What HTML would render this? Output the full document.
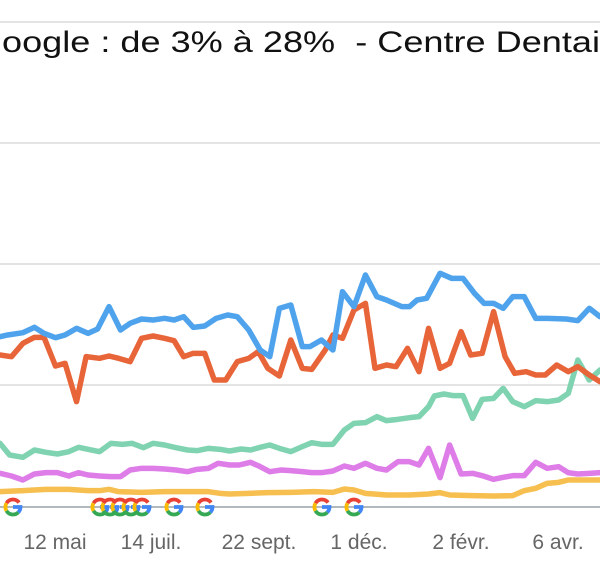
<!DOCTYPE html>
<html><head><meta charset="utf-8"><style>
body{margin:0;background:#fff;width:600px;height:578px;overflow:hidden;font-family:"Liberation Sans",sans-serif}
</style></head><body>
<svg width="600" height="578" viewBox="0 0 600 578" xmlns="http://www.w3.org/2000/svg">
<defs>
<g id="G">
<path d="M6,-4.4 A7.5,7.5 0 0 0 -6.5,-3.8" fill="none" stroke="#e94235" stroke-width="3.8"/>
<path d="M-6.5,-3.8 A7.5,7.5 0 0 0 -6.5,3.8" fill="none" stroke="#fabb05" stroke-width="3.8"/>
<path d="M-6.5,3.8 A7.5,7.5 0 0 0 5.3,5.3" fill="none" stroke="#34a853" stroke-width="3.8"/>
<path d="M5.3,5.3 A7.5,7.5 0 0 0 7.5,0 L0,0" fill="none" stroke="#4285f4" stroke-width="3.8"/>
</g>
</defs>
<g stroke="#dcdcdc" stroke-width="1.5">
<line x1="0" y1="22" x2="600" y2="22"/>
<line x1="0" y1="143" x2="600" y2="143"/>
<line x1="0" y1="264" x2="600" y2="264"/>
<line x1="0" y1="385" x2="600" y2="385"/>
</g>
<line x1="0" y1="507" x2="600" y2="507" stroke="#9aa0a6" stroke-width="1.5"/>
<text x="2" y="52" font-size="30" fill="#111" style="white-space:pre" textLength="598" lengthAdjust="spacingAndGlyphs">oogle : de 3% à 28%  - Centre Dentai</text>
<g transform="translate(0,250) scale(0.38265,0.33333)" fill="none" stroke-width="5.5" stroke-linejoin="round" stroke-linecap="round">
<polyline vector-effect="non-scaling-stroke" stroke="#f6bf4f" points="0,725 60,722 120,718 180,718 230,722 260,722 285,718 310,725 370,727 430,725 490,725 545,725 575,730 600,732 650,730 700,728 760,727 820,725 870,727 900,717 925,720 955,730 1010,735 1070,735 1120,732 1150,728 1175,735 1235,737 1290,738 1340,737 1370,722 1400,715 1430,700 1460,697 1485,690 1510,690 1568,690"/>
<polyline vector-effect="non-scaling-stroke" stroke="#de7ce8" points="0,670 30,678 60,690 90,672 120,668 150,668 180,678 205,668 230,675 260,678 290,680 315,680 340,660 370,655 400,655 430,657 460,660 490,665 515,658 545,655 570,640 600,645 625,645 655,637 680,650 705,665 735,660 760,662 790,665 815,668 840,668 870,663 900,648 925,655 955,640 985,655 1010,660 1040,635 1070,635 1095,645 1120,595 1150,683 1175,585 1205,672 1235,670 1260,677 1290,688 1315,682 1340,677 1370,677 1400,637 1430,655 1460,650 1485,668 1510,672 1540,670 1568,668"/>
<polyline vector-effect="non-scaling-stroke" stroke="#7fd3b0" points="0,580 25,615 60,622 90,600 120,607 150,612 180,605 205,592 230,598 260,605 290,580 320,583 345,580 375,593 400,580 430,585 460,593 490,600 515,602 545,595 575,598 600,603 630,597 655,600 680,592 705,585 730,595 760,605 790,590 815,578 840,583 870,583 900,540 925,520 955,518 985,500 1010,512 1040,508 1070,503 1095,500 1120,470 1135,438 1160,432 1185,437 1210,437 1235,505 1260,448 1290,445 1315,415 1340,455 1370,470 1400,452 1430,455 1460,450 1485,430 1510,330 1540,390 1568,360"/>
<polyline vector-effect="non-scaling-stroke" stroke="#e8653a" points="0,315 30,320 60,280 90,262 115,262 145,348 170,340 200,455 225,320 260,325 285,318 310,325 340,335 370,265 400,258 430,265 455,272 480,320 505,310 535,310 560,390 590,390 620,335 650,325 675,305 700,355 730,378 760,270 790,355 815,358 850,300 870,255 895,265 925,180 955,160 980,355 1010,345 1035,350 1065,295 1095,365 1120,235 1150,355 1175,340 1205,245 1230,315 1260,310 1290,185 1320,320 1345,370 1375,365 1400,375 1425,375 1455,345 1485,365 1510,350 1540,375 1568,395"/>
<polyline vector-effect="non-scaling-stroke" stroke="#4fa3ec" points="0,260 20,255 60,248 90,232 115,250 145,263 170,255 200,235 230,250 255,237 285,170 315,240 340,220 370,207 400,210 430,205 455,210 480,200 505,232 535,228 565,205 595,195 620,200 650,240 680,300 705,320 730,175 760,165 790,290 810,290 840,270 870,300 895,125 925,170 955,75 985,140 1010,150 1050,170 1070,170 1090,150 1115,145 1150,70 1180,85 1210,85 1240,130 1265,160 1290,160 1315,175 1340,140 1370,140 1400,205 1430,205 1480,207 1510,212 1540,175 1568,200"/>
</g>
<use href="#G" x="13" y="507"/>
<use href="#G" x="100" y="507"/>
<use href="#G" x="110" y="507"/>
<use href="#G" x="120" y="507"/>
<use href="#G" x="131" y="507"/>
<use href="#G" x="142" y="507"/>
<use href="#G" x="174" y="507"/>
<use href="#G" x="205" y="507"/>
<use href="#G" x="322" y="507"/>
<use href="#G" x="354" y="507"/>
<g font-size="21" fill="#666" text-anchor="middle">
<text x="55" y="549">12 mai</text>
<text x="151" y="549">14 juil.</text>
<text x="259" y="549">22 sept.</text>
<text x="359" y="549">1 déc.</text>
<text x="461" y="549">2 févr.</text>
<text x="558" y="549">6 avr.</text>
</g>
</svg>
</body></html>
